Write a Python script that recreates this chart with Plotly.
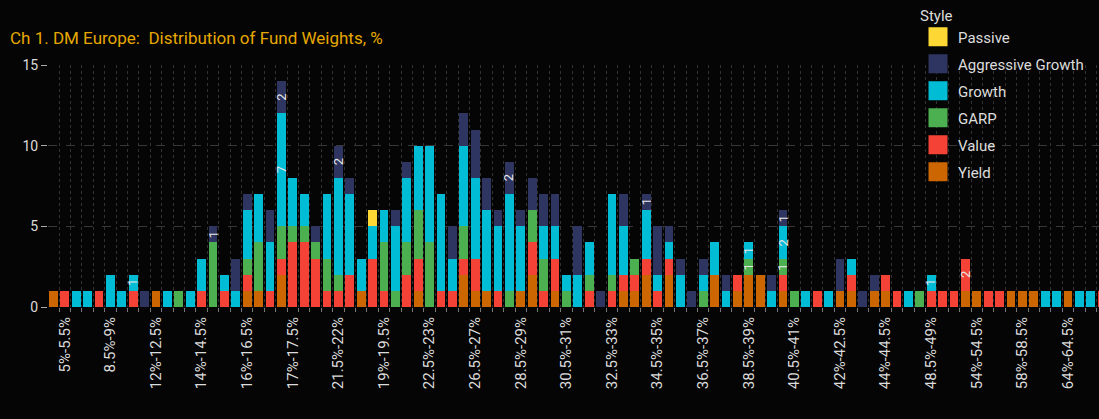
import plotly.graph_objects as go

# ---- categories (one per bar); only every 4th is labelled on the axis ----
categories = [
    "4.5%-5%", "5%-5.5%", "6%-6.5%", "7%-7.5%", "8%-8.5%", "8.5%-9%", "9.5%-10%", "10.5%-11%",
    "11%-11.5%", "12%-12.5%", "12.5%-13%", "13%-13.5%", "13.5%-14%", "14%-14.5%", "14.5%-15%", "15%-15.5%",
    "15.5%-16%", "16%-16.5%", "16.5%-17%", "20%-20.5%", "20.5%-21%", "17%-17.5%", "17.5%-18%", "18%-18.5%",
    "21%-21.5%", "21.5%-22%", "18.5%-19%", "22%-22.5%", "23%-23.5%", "19%-19.5%", "19.5%-20%", "23.5%-24%",
    "24%-24.5%", "22.5%-23%", "24.5%-25%", "25%-25.5%", "25.5%-26%", "26.5%-27%", "26%-26.5%", "27%-27.5%",
    "27.5%-28%", "28.5%-29%", "28%-28.5%", "29%-29.5%", "29.5%-30%", "30.5%-31%", "30%-30.5%", "31%-31.5%",
    "31.5%-32%", "32.5%-33%", "32%-32.5%", "33%-33.5%", "33.5%-34%", "34.5%-35%", "34%-34.5%", "35%-35.5%",
    "35.5%-36%", "36.5%-37%", "36%-36.5%", "37%-37.5%", "37.5%-38%", "38.5%-39%", "38%-38.5%", "39%-39.5%",
    "39.5%-40%", "40.5%-41%", "40%-40.5%", "41%-41.5%", "41.5%-42%", "42%-42.5%", "42.5%-43%", "43%-43.5%",
    "43.5%-44%", "44%-44.5%", "45%-45.5%", "46%-46.5%", "47.5%-48%", "48.5%-49%", "50%-50.5%", "51.5%-52%",
    "53%-53.5%", "54%-54.5%", "55%-55.5%", "56%-56.5%", "57%-57.5%", "58%-58.5%", "59.5%-60%", "61%-61.5%",
    "62.5%-63%", "64%-64.5%", "65%-65.5%", "67%-67.5%", "70%-70.5%",
]

# ---- number of funds per style in each bin ----
yield_ = [1,0,0,0,0,0,0,0,0,1, 0,0,0,0,0,0,0,1,1,0, 2,0,0,0,0,0,0,1,0,0,
          0,0,1,0,0,0,2,1,1,0, 0,1,2,0,1,0,0,0,0,0, 1,1,2,0,2,0,0,0,2,0,
          1,2,2,0,1,0,0,0,0,1, 1,0,1,1,0,0,0,0,0,0, 1,1,0,0,1,1,1,0,0,1, 0,0,0]
value = [0,1,0,0,1,0,0,1,0,0, 0,0,0,1,0,1,0,1,0,1, 1,4,4,3,1,1,2,0,3,1,
         0,2,2,0,1,1,1,2,0,1, 0,0,2,1,2,0,0,1,0,1, 1,1,1,1,1,0,0,0,0,0,
         1,0,0,0,1,0,0,1,0,0, 1,0,0,1,1,0,0,1,1,1, 2,0,1,1,0,0,0,0,0,0, 0,0,1]
garp = [0,0,0,0,0,0,0,0,0,0, 0,1,0,0,4,0,0,1,3,0, 2,1,1,1,2,1,0,0,0,3,
        1,2,3,4,0,0,2,0,0,0, 1,0,2,2,0,1,0,1,0,1, 0,1,0,0,0,0,0,1,0,0,
        0,1,0,0,1,1,0,0,0,0, 0,0,0,0,0,0,1,0,0,0, 0,0,0,0,0,0,0,0,0,0, 0,0,0]
growth = [0,0,1,1,0,2,1,1,0,0, 1,0,1,2,0,1,1,3,3,3, 7,3,2,0,4,6,5,2,2,2,
          4,4,4,6,6,2,5,5,5,4, 6,4,0,2,2,1,2,2,0,5, 3,0,3,1,1,2,0,1,2,1,
          0,1,0,1,2,0,1,0,1,0, 1,0,0,0,0,1,0,1,0,0, 0,0,0,0,0,0,0,1,1,0, 1,1,0]
aggressive = [0,0,0,0,0,0,0,0,1,0, 0,0,0,0,1,0,2,1,0,2, 2,0,0,1,0,2,1,0,0,0,
              1,1,0,0,0,2,2,3,2,1, 2,1,2,2,2,0,3,0,1,0, 2,0,1,3,1,1,1,1,0,1,
              0,0,0,1,1,0,0,0,0,2, 0,1,1,0,0,0,0,0,0,0, 0,0,0,0,0,0,0,0,0,0, 0,0,0]
passive = [0]*28 + [1] + [0]*64

styles = ["Yield", "Value", "GARP", "Growth", "Aggressive Growth", "Passive"]
series = [yield_, value, garp, growth, aggressive, passive]
colors = ["#cc6600", "#f44336", "#4caf50", "#00bcd4", "#2e3560", "#fdd835"]

# segments carrying a value label: (bin index, style)
labelled = [(7, "Growth"), (14, "Aggressive Growth"), (20, "Growth"), (20, "Aggressive Growth"),
            (25, "Aggressive Growth"), (40, "Aggressive Growth"), (52, "Aggressive Growth"),
            (61, "GARP"), (61, "Growth"), (64, "GARP"), (64, "Growth"), (64, "Aggressive Growth"),
            (77, "Growth"), (80, "Value")]

tick_idx = list(range(1, len(categories), 4))
x = list(range(len(categories)))

fig = go.Figure()
for k, (name, vals, col) in enumerate(zip(styles, series, colors)):
    fig.add_trace(go.Bar(
        x=x, y=vals, name=name, marker=dict(color=col, line=dict(width=0)),
        customdata=categories, legendgroup=name, showlegend=False,
        hovertemplate="%{customdata}<br>" + name + ": %{y}<extra></extra>",
    ))
    # legend entry (large square swatch) sharing the bar trace's group
    fig.add_trace(go.Scatter(
        x=[None], y=[None], mode="markers", name=name, legendgroup=name,
        legendrank=len(styles) - k, hoverinfo="skip",
        marker=dict(symbol="square", size=16, color=col, line=dict(width=3, color=col)),
    ))

# value labels positioned at the middle of their stacked segment
for i, st in labelled:
    k = styles.index(st)
    base = sum(series[j][i] for j in range(k))
    v = series[k][i]
    fig.add_annotation(x=i, y=base + v / 2, text=str(v), showarrow=False, textangle=-90,
                       font=dict(size=13, color="#e8e8e8", family="Roboto"))

fig.update_layout(
    width=1099, height=419,
    barmode="stack", bargap=0.237,
    paper_bgcolor="#050505", plot_bgcolor="#050505",
    font=dict(family="Roboto", color="#dcdcdc"),
    margin=dict(l=48, r=0, t=65, b=112, autoexpand=False),
    title=dict(text="Ch 1. DM Europe:\u00a0 Distribution of Fund Weights, %",
               x=10 / 1099, xref="container", xanchor="left",
               y=1 - 38 / 419, yref="container", yanchor="middle",
               font=dict(size=17, color="#e6a800", family="Roboto")),
    legend=dict(title=dict(text="Style", font=dict(size=15, color="#dcdcdc")),
                x=918 / 1099, xref="container", xanchor="left",
                y=1 - 1 / 419, yref="container", yanchor="top",
                traceorder="grouped", tracegroupgap=4.5,
                bgcolor="rgba(0,0,0,0)", font=dict(size=15, color="#dcdcdc")),
    xaxis=dict(range=[-0.47, 91.72], tickmode="array", tickvals=tick_idx,
               ticktext=[categories[i] for i in tick_idx], tickangle=-90,
               ticks="", showgrid=False, zeroline=False, showline=False,
               tickfont=dict(size=15, color="#dcdcdc"), ticklabelstandoff=6,
               minor=dict(tickmode="array", tickvals=[i - 0.5 for i in range(len(categories) + 1)],
                          ticks="outside", ticklen=4, tickcolor="#777777", tickwidth=1,
                          showgrid=True, gridcolor="#323232", griddash="dot", gridwidth=1)),
    yaxis=dict(range=[0, 15], tickvals=[0, 5, 10, 15], ticks="outside", ticklen=6,
               tickcolor="#aaaaaa", tickfont=dict(size=14, color="#dcdcdc"),
               showgrid=True, gridcolor="#383838", griddash="dash", zeroline=False,
               showline=False),
)

fig.write_html("out.html", config={"displayModeBar": False},
               post_script="document.body.style.margin='0';")
